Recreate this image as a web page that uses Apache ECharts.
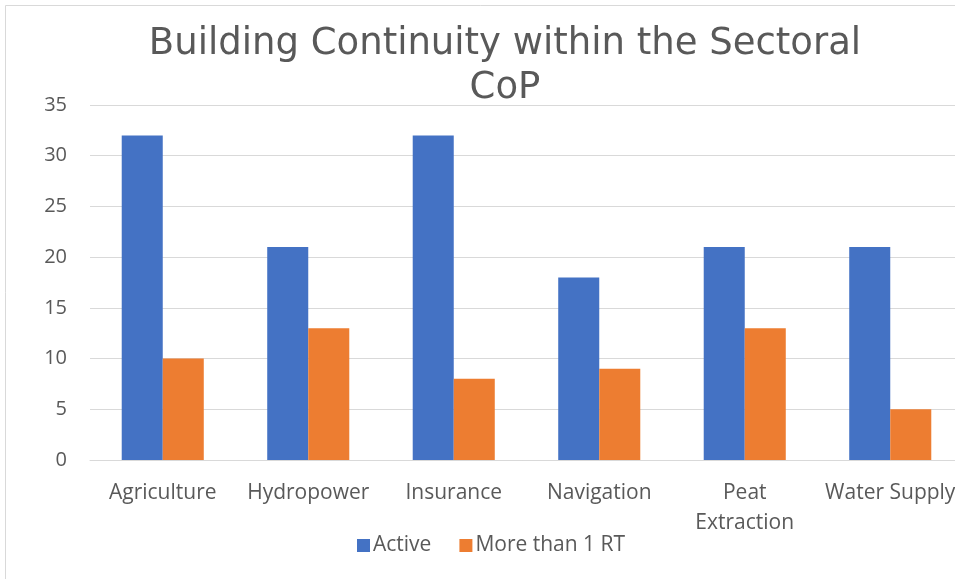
<!DOCTYPE html>
<html>
<head>
<meta charset="utf-8">
<script src="https://cdn.jsdelivr.net/npm/echarts@6/dist/echarts.min.js"></script>
<style>
  html, body { margin: 0; padding: 0; background: #ffffff; }
  #chart { width: 955px; height: 579px; }
</style>
</head>
<body>
<div id="chart"></div>
<script>
// Sector names along the category axis
const categories = ['Agriculture', 'Hydropower', 'Insurance', 'Navigation', 'Peat\nExtraction', 'Water Supply'];
// Participant counts per sector
const activeValues = [32, 21, 32, 18, 21, 21];
const moreThanOneRT = [10, 13, 8, 9, 13, 5];
// Value axis ticks
const yTicks = [0, 5, 10, 15, 20, 25, 30, 35];

const textColor = '#595959';
const fontFamily = '"Open Sans", "Noto Sans", sans-serif';

const chart = echarts.init(document.getElementById('chart'), null, { renderer: 'canvas' });

chart.setOption({
  backgroundColor: '#ffffff',
  animation: false,
  graphic: [{
    type: 'rect',
    shape: { x: 5.5, y: 5.5, width: 1000, height: 1000 },
    style: { fill: 'none', stroke: '#d9d9d9', lineWidth: 1 },
    silent: true,
    z: -1
  }],
  title: {
    text: 'Building Continuity within the Sectoral\nCoP',
    left: 500,
    textAlign: 'center',
    top: 17,
    textStyle: {
      fontFamily: '"DejaVu Sans", sans-serif',
      fontSize: 37,
      fontWeight: 'normal',
      color: textColor,
      lineHeight: 44
    }
  },
  legend: {
    data: ['Active', 'More than 1 RT'],
    bottom: 18,
    left: 352,
    itemWidth: 13,
    itemHeight: 13,
    itemGap: 28,
    icon: 'rect',
    textStyle: { fontFamily: fontFamily, fontSize: 21, color: textColor, padding: [0, 0, 0, -2] }
  },
  grid: {
    left: 90,
    width: 873,
    top: 105,
    bottom: 119,
    containLabel: false,
    outerBoundsMode: 'none'
  },
  xAxis: {
    type: 'category',
    data: categories,
    axisLine: { show: true, lineStyle: { color: '#d9d9d9', width: 1 } },
    axisTick: { show: false },
    axisLabel: {
      color: textColor,
      fontFamily: fontFamily,
      fontSize: 21,
      margin: 18,
      lineHeight: 30,
      interval: 0
    }
  },
  yAxis: {
    type: 'value',
    min: yTicks[0],
    max: yTicks[yTicks.length - 1],
    interval: yTicks[1] - yTicks[0],
    axisLine: { show: false },
    axisTick: { show: false },
    axisLabel: {
      color: textColor,
      fontFamily: fontFamily,
      fontSize: 20,
      margin: 23
    },
    splitLine: { lineStyle: { color: '#d9d9d9', width: 1 } }
  },
  series: [
    {
      name: 'Active',
      type: 'bar',
      data: activeValues,
      barGap: '0%',
      barCategoryGap: '43.6%',
      itemStyle: { color: '#4472c4' }
    },
    {
      name: 'More than 1 RT',
      type: 'bar',
      data: moreThanOneRT,
      itemStyle: { color: '#ed7d31' }
    }
  ]
});
</script>
</body>
</html>
